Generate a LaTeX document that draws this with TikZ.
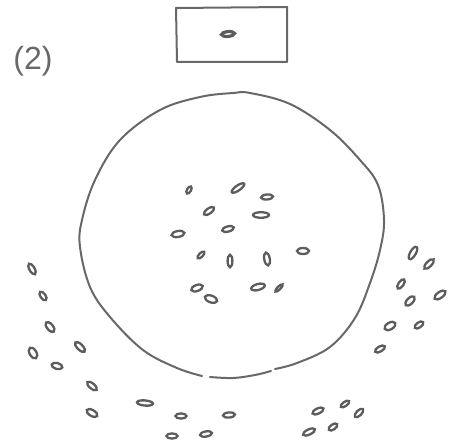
\documentclass[tikz,border=0pt]{standalone}
\usepackage{fontspec}
\setmainfont{Liberation Sans}
\definecolor{ink}{HTML}{686868}
\definecolor{seedink}{HTML}{5C5C5C}
\tikzset{
  outline/.style={draw=ink, line width=2pt, line cap=round, line join=round},
  seedshape/.style={draw=seedink, line width=2.3pt},
}
\newcommand\seedat[5]{\draw[seedshape, rotate around={#5:(#1,#2)}] (#1,#2) ellipse (#3pt and #4pt);}
\begin{document}
\begin{tikzpicture}[x=1pt,y=-1pt]
\useasboundingbox (0,0) rectangle (457,446);
% label
\node[anchor=base, text=ink, font=\fontsize{32}{36}\selectfont, inner sep=0pt] (lbl) at (33,70) {(2)};
% box on top
\draw[outline] (176,8) -- (287,7) -- (287,62) -- (177,62) -- cycle;
\draw[seedshape, line width=3.2pt, rotate around={5:(228,34)}] (228,34) ellipse (6.5pt and 2.4pt);
% big circle
\draw[outline] plot[smooth, tension=0.6] coordinates {(210,377) (233,378) (255,375) (271,371)};
\draw[outline] plot[smooth, tension=0.6] coordinates {(275,369) (297,363) (330,347) (355,318) (370,283) (380,250) (384,220) (378,185) (360,160) (330,130) (290,104) (250,93) (233,93) (200,97) (160,110) (120,140) (95,180) (82,220) (80,247) (90,287) (110,317) (143,350) (177,368) (202,376)};
% inner seeds
\seedat{189}{190}{4}{2}{60}
\seedat{238}{188}{7.5}{2.5}{35}
\seedat{267}{197}{6}{2.5}{5}
\seedat{209}{211}{6}{2.6}{35}
\seedat{261}{215}{8}{2.8}{0}
\seedat{178}{234}{6.5}{3}{10}
\seedat{228}{229}{6}{2.6}{15}
\seedat{201}{255}{4.5}{2}{45}
\seedat{230}{261}{2.4}{6.2}{0}
\seedat{267}{259}{2.8}{6.5}{10}
\seedat{303}{251}{6}{3}{0}
\seedat{197}{288}{6}{3}{20}
\seedat{211}{299}{6.5}{3.4}{-20}
\seedat{258}{287}{7}{3}{15}
\seedat{279}{288}{5}{1.6}{45}
% left group
\seedat{32}{269}{6}{2.6}{-60}
\seedat{43}{296}{5}{2.6}{-55}
\seedat{50}{327}{6}{3}{-50}
\seedat{33}{353}{6}{3.4}{-60}
\seedat{57}{366}{5.5}{3}{-15}
\seedat{80}{347}{6.5}{2.8}{-45}
\seedat{92}{386}{6}{2.6}{-40}
\seedat{92}{413}{6}{3}{-30}
% bottom group
\seedat{145}{403}{8}{2.6}{-5}
\seedat{181}{416}{5.5}{2.6}{0}
\seedat{172}{436}{5.5}{2.6}{0}
\seedat{206}{434}{6}{2.6}{10}
\seedat{229}{415}{6}{2.6}{5}
% right group
\seedat{413}{253}{7}{2.8}{60}
\seedat{429}{264}{6.5}{2.6}{45}
\seedat{401}{284}{5.5}{2.6}{55}
\seedat{440}{295}{6.5}{3}{35}
\seedat{410}{301}{6}{3}{45}
\seedat{390}{326}{6}{3.4}{30}
\seedat{419}{325}{5}{2.6}{35}
\seedat{380}{349}{5.5}{2.6}{30}
% bottom right group
\seedat{318}{411}{6}{2.6}{25}
\seedat{345}{404}{5}{2.2}{35}
\seedat{359}{413}{5.5}{2.6}{45}
\seedat{309}{432}{6.5}{2.6}{25}
\seedat{333}{427}{5}{2.6}{35}
\end{tikzpicture}
\end{document}
